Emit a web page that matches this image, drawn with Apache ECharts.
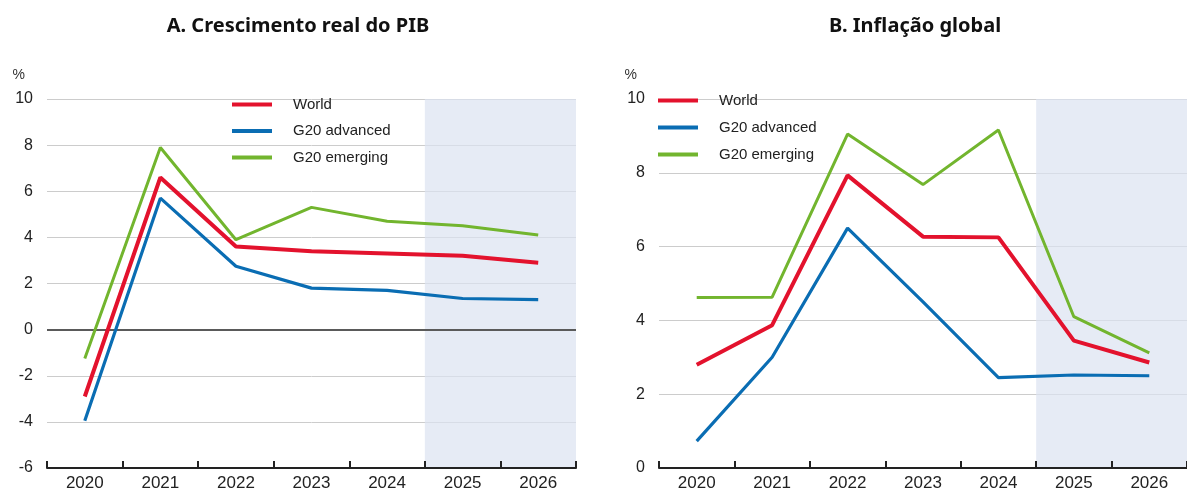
<!DOCTYPE html>
<html>
<head>
<meta charset="utf-8">
<script src="https://cdn.jsdelivr.net/npm/echarts@6/dist/echarts.min.js"></script>
<style>
  html, body { margin: 0; padding: 0; background: #fff; }
  #chart { width: 1187px; height: 492px; }
</style>
</head>
<body>
<div id="chart"></div>
<script>
var years = ['2020', '2021', '2022', '2023', '2024', '2025', '2026'];
var seriesNames = ['World', 'G20 advanced', 'G20 emerging'];

// A. real GDP growth
var gdpWorld    = [-2.9, 6.6, 3.6, 3.4, 3.3, 3.2, 2.9];
var gdpAdvanced = [-3.95, 5.7, 2.75, 1.8, 1.7, 1.35, 1.3];
var gdpEmerging = [-1.25, 7.9, 3.9, 5.3, 4.7, 4.5, 4.1];

// B. inflation
var infWorld    = [2.8, 3.87, 7.93, 6.27, 6.25, 3.45, 2.86];
var infAdvanced = [0.73, 3.0, 6.5, 4.5, 2.45, 2.52, 2.5];
var infEmerging = [4.62, 4.63, 9.05, 7.68, 9.16, 4.1, 3.12];

// projection shading (index positions on band axis)
var projStart = 5;
var projEnd = 7;

var colors = ['#e3122d', '#0a6db3', '#72b52e'];
var widths = [4, 3.2, 3];

var chart = echarts.init(document.getElementById('chart'));

function lineSeries(name, data, idx, axisIdx) {
  return {
    name: name,
    type: 'line',
    xAxisIndex: axisIdx,
    yAxisIndex: axisIdx,
    data: data,
    symbol: 'none',
    z: 5,
    lineStyle: { color: colors[idx], width: widths[idx] },
    itemStyle: { color: colors[idx] }
  };
}

function catAxis(gridIdx) {
  return {
    type: 'category',
    gridIndex: gridIdx,
    data: years,
    boundaryGap: true,
    z: 6,
    axisLine: { onZero: false, lineStyle: { color: '#222', width: 2 } },
    axisTick: { show: true, inside: true, length: 7, lineStyle: { color: '#222', width: 2 } },
    axisLabel: { color: '#222', fontSize: 17, margin: 7, fontFamily: 'Liberation Sans' },
    splitLine: { show: false }
  };
}

function bandAxis(gridIdx) {
  return {
    type: 'value',
    gridIndex: gridIdx,
    min: 0,
    max: years.length,
    show: false
  };
}

function valAxis(gridIdx, min, max) {
  return {
    type: 'value',
    gridIndex: gridIdx,
    min: min,
    max: max,
    interval: 2,
    name: '%',
    nameLocation: 'end',
    nameGap: 17,
    nameTextStyle: { color: '#333', fontSize: 14, align: 'right', padding: [0, 22, 0, 0], fontFamily: 'Liberation Sans' },
    axisLine: { show: false },
    axisTick: { show: false },
    axisLabel: { color: '#222', fontSize: 16, margin: 14, fontFamily: 'Liberation Sans' },
    splitLine: { lineStyle: { color: '#cccccc', width: 1 } }
  };
}

function shadeSeries(axisIdx) {
  return {
    type: 'line',
    xAxisIndex: axisIdx,
    yAxisIndex: axisIdx,
    data: [],
    silent: true,
    z: -1,
    markArea: {
      silent: true,
      itemStyle: { color: 'rgba(220,227,241,0.7)' },
      data: [[{ xAxis: projStart }, { xAxis: projEnd }]]
    }
  };
}

function legend(left, top, gap) {
  return {
    left: left,
    top: top,
    padding: 0,
    orient: 'vertical',
    data: seriesNames,
    icon: 'rect',
    itemWidth: 40,
    itemHeight: 4,
    itemGap: gap,
    selectedMode: false,
    textStyle: { color: '#222', fontSize: 15, fontFamily: 'Liberation Sans', padding: [0, 0, 0, 16] }
  };
}

var option = {
  animation: false,
  title: [
    { text: 'A. Crescimento real do PIB', left: 293, top: 11, textAlign: 'center',
      textStyle: { fontFamily: 'Noto Sans', fontWeight: 'bold', fontSize: 20, color: '#111' } },
    { text: 'B. Inflação global', left: 910, top: 11, textAlign: 'center',
      textStyle: { fontFamily: 'Noto Sans', fontWeight: 'bold', fontSize: 20, color: '#111' } }
  ],
  legend: [legend(232, 97, 11.5), legend(658, 93, 12)],
  grid: [
    { left: 47, top: 99, width: 529, height: 370 },
    { left: 659, top: 99, width: 529, height: 370 }
  ],
  xAxis: [catAxis(0), catAxis(1), bandAxis(0), bandAxis(1)],
  yAxis: [valAxis(0, -6, 10), valAxis(1, 0, 10),
          { type: 'value', gridIndex: 0, min: -6, max: 10, show: false },
          { type: 'value', gridIndex: 1, min: 0, max: 10, show: false }],
  series: [
    shadeSeries(2),
    shadeSeries(3),
    {
      type: 'line', xAxisIndex: 0, yAxisIndex: 0, data: [], silent: true, z: 1,
      markLine: {
        silent: true, symbol: 'none', label: { show: false },
        lineStyle: { color: '#5a5a5a', width: 2, type: 'solid' },
        data: [{ yAxis: 0 }]
      }
    },
    lineSeries('World', gdpWorld, 0, 0),
    lineSeries('G20 advanced', gdpAdvanced, 1, 0),
    lineSeries('G20 emerging', gdpEmerging, 2, 0),
    lineSeries('World', infWorld, 0, 1),
    lineSeries('G20 advanced', infAdvanced, 1, 1),
    lineSeries('G20 emerging', infEmerging, 2, 1)
  ]
};

chart.setOption(option);
</script>
</body>
</html>
